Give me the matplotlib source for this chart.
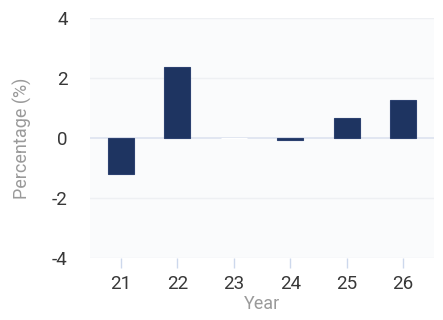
import numpy as np
import matplotlib.pyplot as plt

years = ['21', '22', '23', '24', '25', '26']
values = [-1.2, 2.35, 0.0, -0.08, 0.68, 1.28]
yticks = [-4, -2, 0, 2, 4]

plt.rcParams['font.family'] = ['Roboto', 'DejaVu Sans']

fig = plt.figure(figsize=(4.43, 3.2), dpi=100)
ax = fig.add_axes([0.203, 0.194, 0.777, 0.75])
ax.set_facecolor('#fafbfc')

x = np.arange(len(years))
# zero-height bar shows only as a pale stroke over the zero line
edges = ['#2c4170' if v != 0 else '#ffffff' for v in values]
ax.bar(x, values, width=0.46, color='#1e3461', edgecolor=edges, linewidth=0.8, zorder=3)

ax.set_xlim(-0.55, len(years) - 0.45)
ax.set_ylim(-4, 4)
ax.set_yticks(yticks)
ax.set_yticklabels([str(t) for t in yticks])
ax.set_xticks(x)
ax.set_xticklabels(years)

for t in yticks:
    if t == 0:
        ax.axhline(t, color='#dde2ef', linewidth=1.2, zorder=2)
    else:
        ax.axhline(t, color='#eef0f3', linewidth=1.0, zorder=1)

for s in ax.spines.values():
    s.set_visible(False)

ax.tick_params(axis='y', length=0, pad=16, labelsize=13.5, labelcolor='#383838')
ax.tick_params(axis='x', length=7, width=1, color='#cdd8ec', pad=5, labelsize=13.5, labelcolor='#383838')

ax.set_xlabel('Year', fontsize=13, color='#9a9a9a', labelpad=2)
ax.set_ylabel('Percentage (%)', fontsize=13, color='#9a9a9a', labelpad=14)

fig.savefig('out.png', dpi=100)
